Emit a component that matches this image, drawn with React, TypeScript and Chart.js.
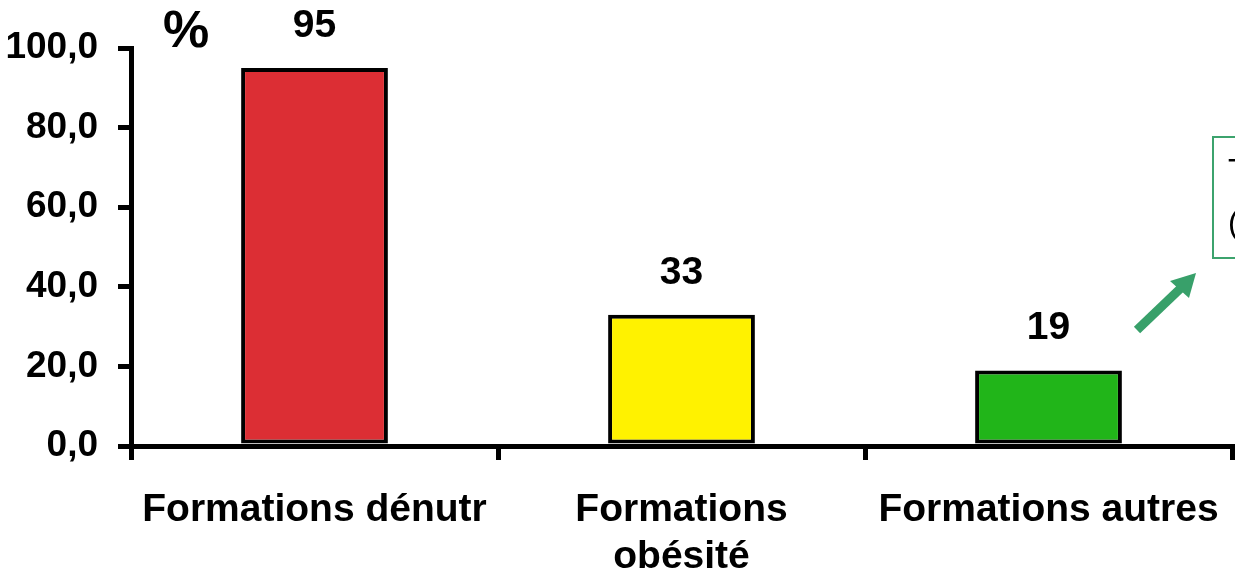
import React, { useEffect, useRef } from 'react';
import { Chart, registerables } from 'chart.js';

Chart.register(...registerables);

const categories: (string | string[])[] = ['Formations dénutr', ['Formations', 'obésité'], 'Formations autres'];
const values = [95, 33, 19];
const barColors = ['#dc2e34', '#fff200', '#21b519'];
const yTickStep = 20;
const yMax = 100;
const unitLabel = '%';
const noteLines = ['Taux', '(%)'];

const FONT = "'Liberation Sans', Arial, sans-serif";

const overlayPlugin = {
  id: 'overlay',
  afterDraw(chart: any) {
    const ctx = chart.ctx;
    const area = chart.chartArea;
    const meta = chart.getDatasetMeta(0);
    ctx.save();
    // value labels
    ctx.fillStyle = '#000';
    ctx.font = `bold 39px ${FONT}`;
    ctx.textAlign = 'center';
    ctx.textBaseline = 'alphabetic';
    meta.data.forEach((bar: any, i: number) => {
      ctx.fillText(String(values[i]), bar.x, bar.y - 31);
    });
    // unit label
    ctx.font = `bold 52px ${FONT}`;
    ctx.fillText(unitLabel, area.left + 55, area.top - 1);
    // note box
    ctx.strokeStyle = '#3ca36d';
    ctx.lineWidth = 2;
    ctx.strokeRect(1213, 137, 60, 121);
    ctx.fillStyle = '#000';
    ctx.font = `32px ${FONT}`;
    ctx.textAlign = 'left';
    ctx.fillText(noteLines[0], 1228, 181);
    ctx.fillText(noteLines[1], 1228, 233);
    // arrow
    ctx.strokeStyle = '#38a06a';
    ctx.fillStyle = '#38a06a';
    ctx.lineWidth = 9;
    ctx.lineCap = 'butt';
    ctx.beginPath();
    ctx.moveTo(1137, 330);
    ctx.lineTo(1182, 287);
    ctx.stroke();
    ctx.beginPath();
    ctx.moveTo(1196, 273);
    ctx.lineTo(1170, 281);
    ctx.lineTo(1189, 298);
    ctx.closePath();
    ctx.fill();
    ctx.restore();
  },
};

export default function App() {
  const ref = useRef<HTMLCanvasElement | null>(null);
  useEffect(() => {
    if (!ref.current) return;
    const chart = new Chart(ref.current, {
      type: 'bar',
      data: {
        labels: categories,
        datasets: [
          {
            data: values,
            backgroundColor: barColors,
            borderColor: '#000',
            borderWidth: 4,
            borderSkipped: false,
            barPercentage: 0.4,
            categoryPercentage: 1,
          },
        ],
      },
      options: {
        responsive: false,
        animation: false,
        layout: { padding: { top: 48, right: 3, left: 0, bottom: 0 } },
        plugins: { legend: { display: false }, tooltip: { enabled: false } },
        scales: {
          x: {
            z: 1,
            grid: { offset: true, drawOnChartArea: false, drawTicks: true, tickLength: 14, color: '#000', lineWidth: 5 },
            border: { display: true, color: '#000', width: 5 },
            ticks: {
              color: '#000',
              font: { family: FONT, weight: 'bold', size: 39 },
              padding: 27,
              autoSkip: false,
              maxRotation: 0,
              minRotation: 0,
            },
            afterFit(scale: any) {
              scale.height = 137;
              scale.paddingLeft = 0;
              scale.paddingRight = 0;
            },
          },
          y: {
            z: 1,
            min: 0,
            max: yMax,
            grid: { drawOnChartArea: false, drawTicks: true, tickLength: 13, color: '#000', lineWidth: 5 },
            border: { display: true, color: '#000', width: 5 },
            ticks: {
              stepSize: yTickStep,
              color: '#000',
              font: { family: FONT, weight: 'bold', size: 37 },
              padding: 20,
              callback: (v: any) => Number(v).toFixed(1).replace('.', ','),
            },
            afterFit(scale: any) {
              scale.width = 131;
              scale.paddingTop = 0;
              scale.paddingBottom = 0;
            },
          },
        },
      },
      plugins: [overlayPlugin],
    });
    return () => chart.destroy();
  }, []);
  return (
    <div style={{ position: 'fixed', left: 0, top: 0, width: 1235, height: 583, background: '#fff' }}>
      <canvas ref={ref} width={1235} height={583} />
    </div>
  );
}
